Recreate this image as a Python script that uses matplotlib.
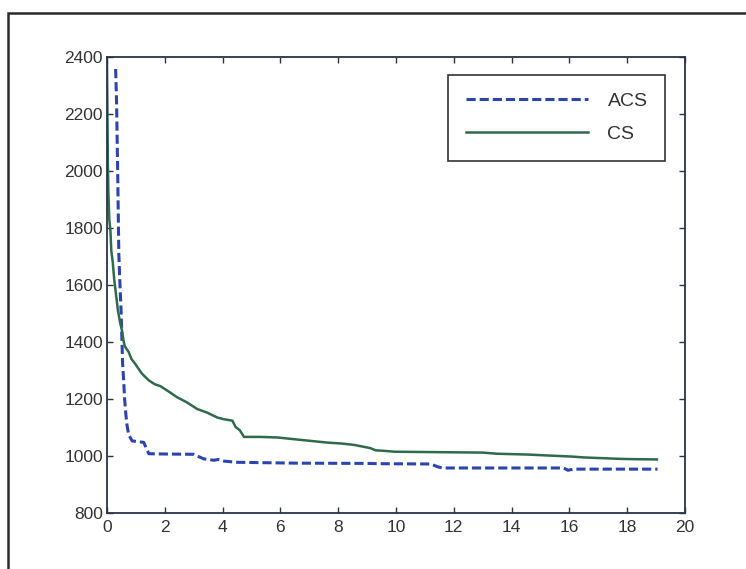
import matplotlib.pyplot as plt
from matplotlib.patches import Rectangle

# convergence curves
acs_x = [0.30, 0.33, 0.37, 0.41, 0.45, 0.49, 0.54, 0.58, 0.61, 0.65, 0.69, 0.75, 0.87,
         1.10, 1.27, 1.35, 1.45, 2.0, 3.0, 3.12, 3.35, 3.5, 3.7, 3.85, 4.05, 4.28, 4.5,
         6.5, 9.0, 9.5, 11.2, 11.45, 11.6, 15.8, 15.95, 16.15, 19.05]
acs_y = [2358, 2250, 2000, 1708, 1600, 1504, 1326, 1260, 1200, 1150, 1110, 1075, 1053,
         1050, 1048, 1030, 1008, 1007, 1006, 1000, 990, 988, 985, 988, 982, 980, 978,
         975, 974, 973, 972, 962, 958, 958, 950, 954, 954]

cs_x = [0.0, 0.02, 0.03, 0.05, 0.08, 0.12, 0.15, 0.2, 0.25, 0.32, 0.38, 0.45, 0.52, 0.58,
        0.62, 0.66, 0.75, 0.85, 1.0, 1.2, 1.45, 1.65, 1.85, 2.08, 2.43, 2.77, 3.12, 3.47,
        3.82, 4.05, 4.34, 4.45, 4.6, 4.74, 5.3, 5.9, 6.47, 7.05, 7.63, 8.1, 8.55, 8.8,
        9.1, 9.3, 9.6, 9.97, 11.0, 12.0, 13.0, 13.5, 14.6, 15.0, 16.1, 16.5, 17.75, 18.2,
        19.03]
cs_y = [2380, 2150, 2030, 1920, 1830, 1790, 1720, 1680, 1620, 1560, 1510, 1470, 1440, 1400,
        1385, 1378, 1365, 1340, 1320, 1290, 1265, 1252, 1245, 1230, 1206, 1188, 1165, 1152,
        1135, 1129, 1124, 1102, 1090, 1067, 1067, 1065, 1059, 1053, 1047, 1044, 1039, 1034,
        1028, 1020, 1018, 1015, 1014, 1013, 1012, 1008, 1005, 1003, 998, 995, 990, 989,
        988]

x_ticks = list(range(0, 21, 2))
y_ticks = list(range(800, 2401, 200))

plt.rcParams['font.family'] = ['Liberation Sans Narrow', 'Liberation Sans', 'DejaVu Sans']

fig = plt.figure(figsize=(7.46, 5.69), dpi=100)
ax = fig.add_axes([0.1434, 0.0984, 0.7748, 0.8014])

ax.plot(acs_x, acs_y, color='#2a45b0', lw=2.2, dashes=(3.0, 1.3), label='ACS')
ax.plot(cs_x, cs_y, color='#2f6a4c', lw=1.8, label='CS')

ax.set_xlim(0, 20)
ax.set_ylim(800, 2400)
ax.set_xticks(x_ticks)
ax.set_yticks(y_ticks)
ax.tick_params(direction='in', length=4.5, width=1, top=True, right=True,
               labelsize=12.5, labelcolor='#333333', color='#2b3345', pad=3)
ax.tick_params(axis='x', pad=5)
for s in ax.spines.values():
    s.set_color('#2b3345')
    s.set_linewidth(1.3)

leg = ax.legend(loc='upper right', bbox_to_anchor=(0.8914, 0.8682),
                bbox_transform=fig.transFigure, fontsize=14, frameon=True,
                fancybox=False, framealpha=1, edgecolor='#333333',
                handlelength=6.3, handletextpad=1.0, labelspacing=0.8,
                borderpad=0.9, borderaxespad=0)
leg.get_frame().set_linewidth(1.2)
for t in leg.get_texts():
    t.set_color('#333333')

# scanned page frame around the figure
fig.patches.append(Rectangle((8 / 746, -0.1), 1.2, 1.1 - 13 / 569, transform=fig.transFigure,
                             fill=False, edgecolor='#2a2a2a', lw=1.8, clip_on=False))

fig.savefig('out.png', dpi=100)
